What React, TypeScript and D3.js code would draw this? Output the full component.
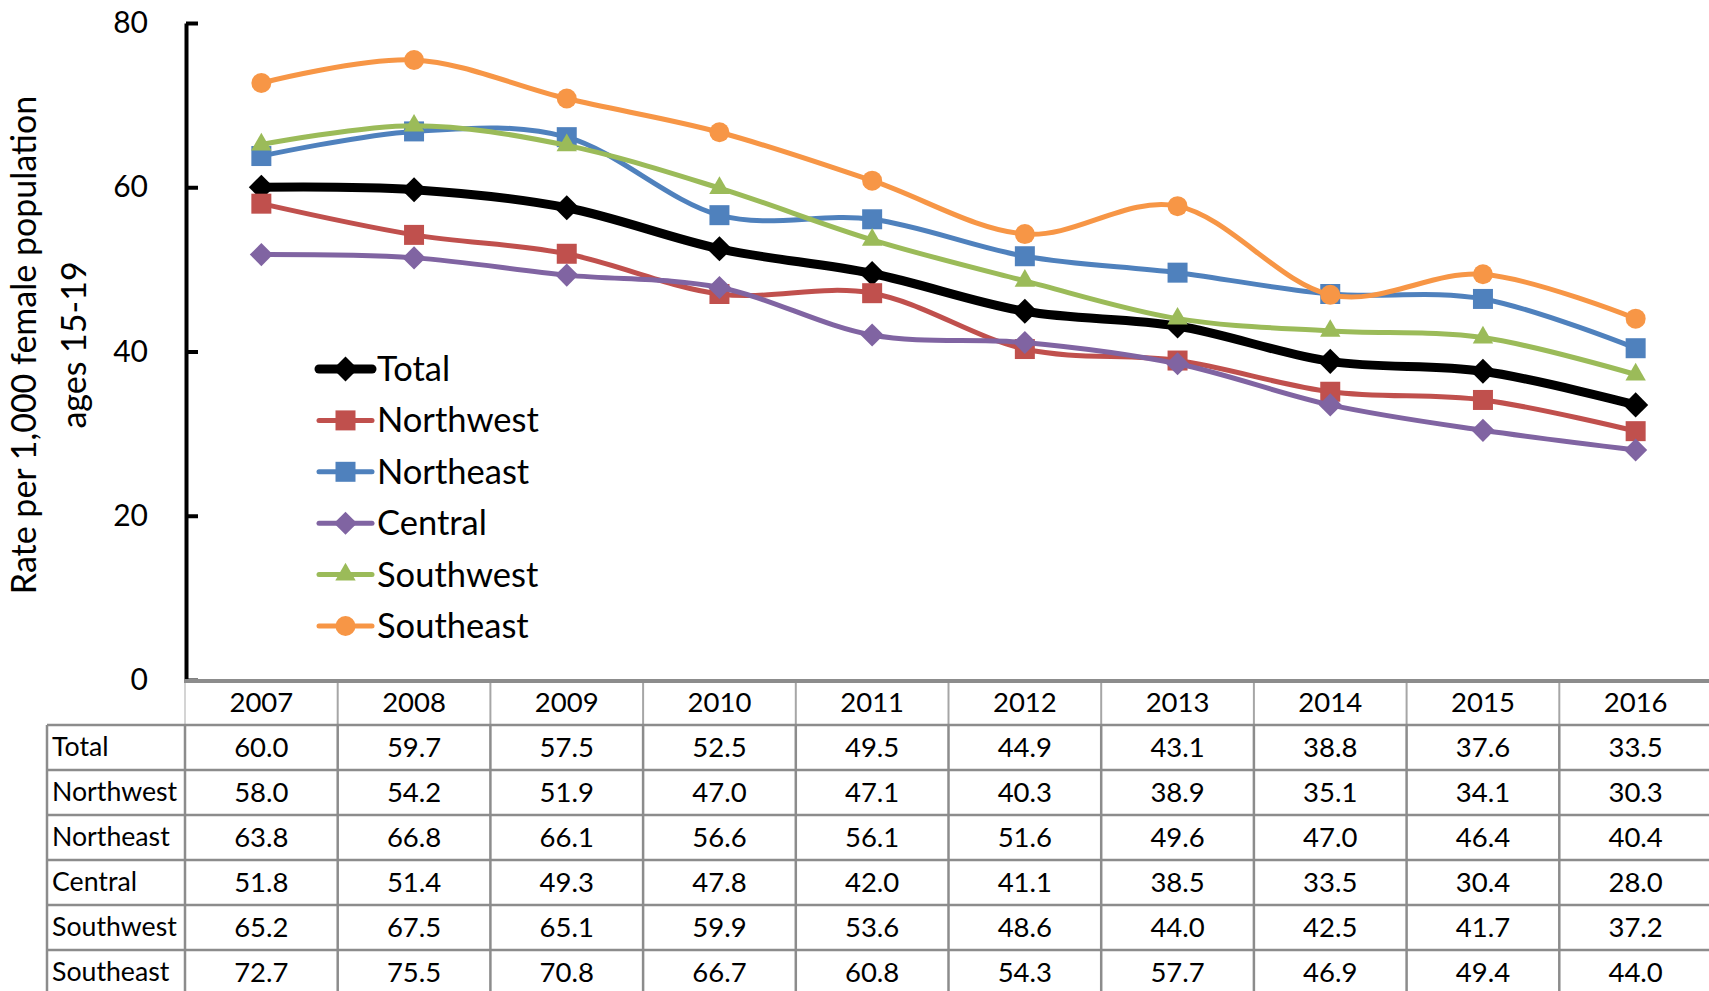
import React, { useEffect, useRef } from "react";
import * as d3 from "d3";

const years = ["2007", "2008", "2009", "2010", "2011", "2012", "2013", "2014", "2015", "2016"];
const total = [60.0, 59.7, 57.5, 52.5, 49.5, 44.9, 43.1, 38.8, 37.6, 33.5];
const northwest = [58.0, 54.2, 51.9, 47.0, 47.1, 40.3, 38.9, 35.1, 34.1, 30.3];
const northeast = [63.8, 66.8, 66.1, 56.6, 56.1, 51.6, 49.6, 47.0, 46.4, 40.4];
const central = [51.8, 51.4, 49.3, 47.8, 42.0, 41.1, 38.5, 33.5, 30.4, 28.0];
const southwest = [65.2, 67.5, 65.1, 59.9, 53.6, 48.6, 44.0, 42.5, 41.7, 37.2];
const southeast = [72.7, 75.5, 70.8, 66.7, 60.8, 54.3, 57.7, 46.9, 49.4, 44.0];
const yTicks = [0, 20, 40, 60, 80];

const series = [
  { name: "Total", values: total, color: "#000000", width: 9, marker: d3.symbolDiamond2, size: 400 },
  { name: "Northwest", values: northwest, color: "#C0504D", width: 5, marker: d3.symbolSquare, size: 400 },
  { name: "Northeast", values: northeast, color: "#4F81BD", width: 5, marker: d3.symbolSquare, size: 400 },
  { name: "Central", values: central, color: "#8064A2", width: 5, marker: d3.symbolDiamond2, size: 340 },
  { name: "Southwest", values: southwest, color: "#9BBB59", width: 5, marker: d3.symbolTriangle, size: 180 },
  { name: "Southeast", values: southeast, color: "#F79646", width: 5, marker: d3.symbolCircle, size: 314 },
];

const FONT = "Lato, 'Open Sans', sans-serif";

export default function App() {
  const ref = useRef<SVGSVGElement>(null);

  useEffect(() => {
    const svg = d3.select(ref.current);
    svg.selectAll("*").remove();

    const x = d3.scaleBand().domain(years).range([185, 1712]);
    const cx = (d: string) => (x(d) as number) + x.bandwidth() / 2;
    const y = d3.scaleLinear().domain([0, 80]).range([680, 23]);

    // y axis, ticks point inward
    const yAxis = svg.append("g")
      .attr("transform", "translate(186,0)")
      .call(d3.axisLeft(y).tickValues(yTicks).tickSizeInner(-12).tickSizeOuter(0).tickPadding(38));
    yAxis.select(".domain").attr("stroke", "#000").attr("stroke-width", 4);
    yAxis.selectAll(".tick line").attr("stroke", "#000").attr("stroke-width", 4);
    yAxis.selectAll(".tick text")
      .attr("font-family", FONT).attr("font-size", 30).attr("fill", "#000");

    svg.append("text")
      .attr("transform", "translate(49,345) rotate(-90)")
      .attr("font-family", FONT).attr("font-size", 34)
      .attr("text-anchor", "middle")
      .selectAll("tspan")
      .data(["Rate per 1,000 female population", "ages 15-19"])
      .join("tspan")
      .attr("x", 0)
      .attr("y", (d, i) => (i === 0 ? -13 : 37))
      .text(d => d);

    const line = d3.line<number>()
      .x((d, i) => cx(years[i]))
      .y(d => y(d))
      .curve(d3.curveCardinal.tension(0));

    series.forEach(s => {
      const g = svg.append("g");
      g.append("path")
        .attr("d", line(s.values))
        .attr("fill", "none")
        .attr("stroke", s.color)
        .attr("stroke-width", s.width)
        .attr("stroke-linecap", "round")
        .attr("stroke-linejoin", "round");
      g.selectAll("path.m")
        .data(s.values)
        .join("path")
        .attr("class", "m")
        .attr("transform", (d, i) => `translate(${cx(years[i])},${y(d)})`)
        .attr("d", d3.symbol(s.marker, s.size)())
        .attr("fill", s.color);
    });

    // legend
    const legend = svg.append("g").attr("transform", "translate(316,369)");
    series.forEach((s, i) => {
      const g = legend.append("g").attr("transform", `translate(0,${i * 51.4})`);
      g.append("line")
        .attr("x1", 3).attr("x2", 56)
        .attr("stroke", s.color)
        .attr("stroke-width", s.width)
        .attr("stroke-linecap", "round");
      g.append("path")
        .attr("transform", "translate(29.5,0)")
        .attr("d", d3.symbol(s.marker, s.size)())
        .attr("fill", s.color);
      g.append("text")
        .attr("x", 61)
        .attr("dy", "0.35em")
        .attr("font-family", FONT).attr("font-size", 34.5)
        .text(s.name);
    });

    // data table
    const rowH = 45;
    const top = 680;
    const left = 47;
    const right = 1712;
    const table = svg.append("g");
    const bounds = years.map(d => x(d) as number).concat([right]);

    table.selectAll("line.hv")
      .data(bounds)
      .join("line")
      .attr("class", "hv")
      .attr("x1", d => d).attr("x2", d => d)
      .attr("y1", top).attr("y2", top + rowH)
      .attr("stroke", (d, i) => (i === 0 ? "#d4d4d4" : "#a6a6a6"))
      .attr("stroke-width", 2);

    const rowCount = series.length;
    table.selectAll("line.h")
      .data(d3.range(rowCount + 1))
      .join("line")
      .attr("class", "h")
      .attr("x1", left).attr("x2", right)
      .attr("y1", i => top + rowH * (i + 1)).attr("y2", i => top + rowH * (i + 1))
      .attr("stroke", "#8c8c8c").attr("stroke-width", 2.5);

    table.selectAll("line.v")
      .data([left].concat(bounds))
      .join("line")
      .attr("class", "v")
      .attr("x1", d => d).attr("x2", d => d)
      .attr("y1", top + rowH).attr("y2", top + rowH * (rowCount + 1))
      .attr("stroke", "#8c8c8c").attr("stroke-width", 2.5);

    table.append("line")
      .attr("x1", 184).attr("x2", right)
      .attr("y1", top + 1).attr("y2", top + 1)
      .attr("stroke", "#8c8c8c").attr("stroke-width", 4);

    table.selectAll("text.yr")
      .data(years)
      .join("text")
      .attr("class", "yr")
      .attr("x", d => cx(d))
      .attr("y", top + rowH / 2)
      .attr("dy", "0.35em")
      .attr("text-anchor", "middle")
      .attr("font-family", FONT).attr("font-size", 27.5)
      .text(d => d);

    series.forEach((s, r) => {
      const ry = top + rowH * (r + 1) + rowH / 2;
      table.append("text")
        .attr("x", 52).attr("y", ry).attr("dy", "0.33em")
        .attr("font-family", FONT).attr("font-size", 26.7)
        .text(s.name);
      table.selectAll(`text.v${r}`)
        .data(s.values)
        .join("text")
        .attr("class", `v${r}`)
        .attr("x", (d, i) => cx(years[i]))
        .attr("y", ry).attr("dy", "0.33em")
        .attr("text-anchor", "middle")
        .attr("font-family", FONT).attr("font-size", 27.5)
        .text(d => d3.format(".1f")(d));
    });
  }, []);

  return (
    <svg ref={ref} width={1709} height={991}
      style={{ position: "absolute", left: 0, top: 0, background: "#fff" }} />
  );
}
